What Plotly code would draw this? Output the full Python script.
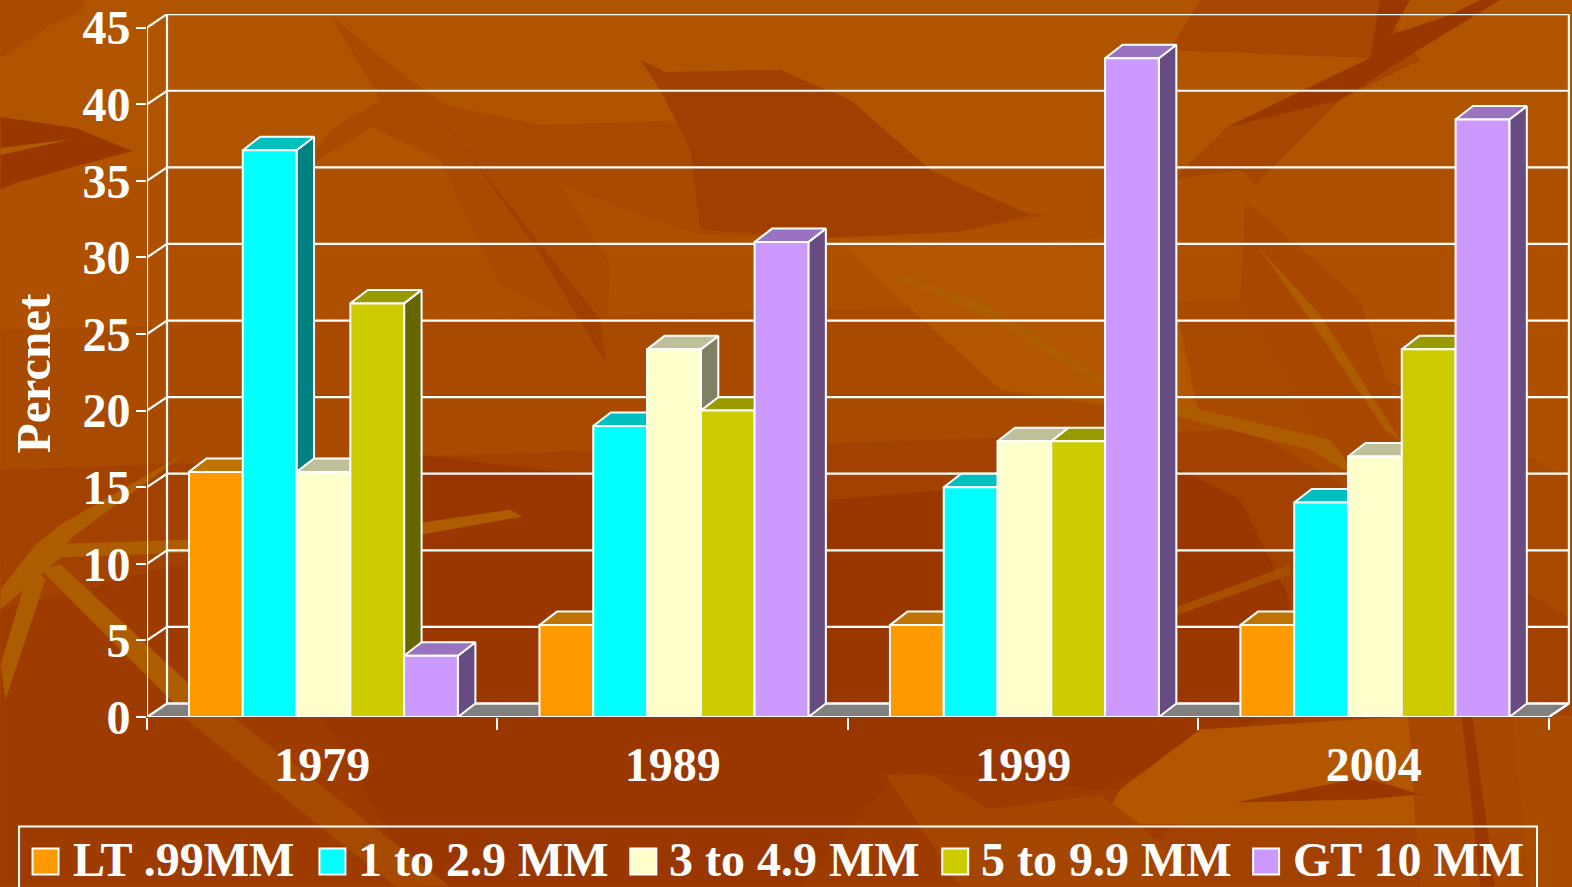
import plotly.graph_objects as go

# ---- data ----
YEARS = ["1979", "1989", "1999", "2004"]
SERIES = ["LT .99MM", "1 to 2.9 MM", "3 to 4.9 MM", "5 to 9.9 MM", "GT 10 MM"]
LT_099 = [16, 6, 6, 6]
MM_1_29 = [37, 19, 15, 14]
MM_3_49 = [16, 24, 18, 17]
MM_5_99 = [27, 20, 18, 24]
GT_10 = [4, 31, 43, 39]
VALUES = [LT_099, MM_1_29, MM_3_49, MM_5_99, GT_10]
Y_TICKS = list(range(0, 50, 5))

# ---- style ----
FRONT = ["#FF9900", "#00FFFF", "#FFFFCC", "#CCCC00", "#CC99FF"]
TOP = ["#BF7300", "#00BFBF", "#BFBF99", "#999900", "#9973BF"]
SIDE = ["#7F4C00", "#008080", "#808066", "#666600", "#664C80"]
FONT = "Liberation Serif"
W, H = 1572, 887
L, R, T, B = 146.5, 1570.0, 14.0, 717.5
PX_PER_X = 350.6
PX_PER_Y = 15.33
WALL_DX = 20.0 / PX_PER_X
BAR_DX = 17.5 / PX_PER_X
DY = 13.5 / PX_PER_Y
BAR_W = 53.8 / PX_PER_X
GROUP_PAD = 42.0 / PX_PER_X
XMAX = (R - L) / PX_PER_X
YMAX = (B - T) / PX_PER_Y


def px(x, y):
    return (x - L) / (R - L), (B - y) / (B - T)


def poly(points, color):
    d = []
    for i, (x, y) in enumerate(points):
        a, b = px(x, y)
        d.append(("M" if i == 0 else "L") + f"{a:.5f},{b:.5f}")
    return dict(type="path", xref="paper", yref="paper", path=" ".join(d) + " Z",
                fillcolor=color, line=dict(width=0), layer="below")


# painted backdrop (decorative bamboo leaves)
BG = "#B05400"
LIGHT = "#B25600"
MID = "#A64600"
DARK = "#9A3700"
RIB = "#AD5C00"
BACKDROP = [
    ([(0, 170), (1572, 170), (1572, 887), (0, 887)], "#AE5000"),
    ([(0, 330), (1240, 300), (1572, 480), (1572, 887), (0, 887)], "#A84A00"),
    ([(0, 470), (1250, 430), (1572, 620), (1572, 887), (0, 887)], "#A34200"),
    ([(0, 610), (200, 560), (1250, 560), (1300, 720), (1100, 887), (0, 887)], "#9E3B00"),
    ([(420, 455), (540, 470), (830, 500), (1180, 470), (1240, 500), (1290, 600), (1270, 715), (1100, 790), (900, 770), (800, 887), (420, 887), (320, 715)], DARK),
    ([(1200, 730), (1420, 716), (1440, 825), (1100, 825), (1120, 790)], LIGHT),
    ([(1420, 716), (1572, 716), (1572, 887), (1420, 887)], "#AA4C00"),
    ([(0, 0), (85, 0), (80, 12), (50, 25), (0, 58)], "#A84A00"),
    ([(0, 117), (75, 128), (132, 151), (15, 183), (0, 190)], DARK),
    ([(0, 148), (72, 139), (0, 155)], RIB),
    ([(330, 15), (390, 65), (445, 105), (540, 125), (700, 120), (780, 72), (850, 100), (930, 170), (1000, 210), (1050, 215), (960, 232), (830, 238), (700, 235), (640, 215), (560, 185), (610, 265), (606, 365), (560, 315), (500, 285), (460, 205), (440, 160), (372, 127), (300, 170), (330, 130), (380, 100)], "#A84A00"),
    ([(430, 105), (600, 320), (606, 365), (540, 255), (480, 170)], "#A04000"),
    ([(640, 60), (665, 72), (780, 70), (850, 100), (930, 170), (1030, 215), (960, 232), (830, 238), (700, 230), (690, 150), (660, 90)], "#A04000"),
    ([(835, 238), (1000, 245), (1160, 235), (1200, 420), (1000, 390), (900, 300)], LIGHT),
    ([(1170, 50), (1370, 58), (1230, 125), (1172, 180), (1240, 170), (1255, 185), (1300, 140), (1340, 100), (1420, 60), (1400, 35), (1380, 0), (1200, 0)], MID),
    ([(1380, 0), (1410, 0), (1390, 35), (1450, 15), (1480, 0), (1500, 0), (1410, 55), (1340, 100), (1228, 127), (1370, 58)], DARK),
    ([(1245, 200), (1360, 300), (1400, 420), (1500, 600), (1530, 887), (1420, 887), (1400, 600), (1290, 385), (1240, 300)], "#A84800"),
    ([(1235, 803), (1365, 778), (1420, 795), (1365, 800)], DARK),
    ([(885, 775), (930, 775), (990, 810), (1100, 795), (1140, 825), (1200, 887), (960, 887)], "#A44600"),
    ([(1460, 700), (1470, 700), (1495, 887), (1480, 887)], DARK),
    ([(880, 270), (980, 300), (1100, 375), (1180, 405), (1330, 440), (1360, 480), (1310, 450), (1170, 415), (1100, 385), (980, 315)], RIB),
    ([(1258, 247), (1320, 315), (1400, 440), (1385, 430), (1310, 320)], RIB),
    ([(1170, 610), (1290, 565), (1290, 575), (1170, 618)], "#A84E00"),
    ([(420, 523), (510, 510), (522, 517), (420, 535)], RIB),
    ([(0, 590), (35, 545), (190, 540), (190, 553), (60, 558), (0, 610)], RIB),
    ([(35, 545), (60, 525), (190, 450), (75, 535), (55, 555)], RIB),
    ([(0, 665), (30, 565), (45, 580), (5, 700)], RIB),
    ([(40, 570), (60, 565), (200, 695), (190, 720)], RIB),
    ([(190, 695), (210, 700), (450, 887), (395, 887), (180, 715)], "#A54A00"),
]

fig = go.Figure()


def line_trace(xs, ys):
    fig.add_trace(go.Scatter(x=xs, y=ys, mode="lines", showlegend=False, hoverinfo="skip",
                             line=dict(color="white", width=2.2), cliponaxis=False))


# floor
fig.add_trace(go.Scatter(x=[0, 4, 4 + WALL_DX, WALL_DX, 0], y=[0, 0, DY, DY, 0], mode="lines", fill="toself",
                         fillcolor="#808080", line=dict(color="white", width=2), showlegend=False,
                         hoverinfo="skip", cliponaxis=False))

# walls and gridlines, from the tick values
gx, gy = [], []
for v in Y_TICKS:
    gx += [0, WALL_DX, 4 + WALL_DX, None]
    gy += [v, v + DY, v + DY, None]
line_trace(gx, gy)
line_trace([0, 0, None, WALL_DX, WALL_DX, None, 4 + WALL_DX, 4 + WALL_DX, None, 4, 4 + WALL_DX],
           [0, 45, None, DY, 45 + DY, None, DY, 45 + DY, None, 0, DY])

# bars, painted left to right so that nearer faces overlap
for s, name in enumerate(SERIES):
    front_x, front_y, top_x, top_y, side_x, side_y = [], [], [], [], [], []
    for g, v in enumerate(VALUES[s]):
        x0 = g + GROUP_PAD + s * BAR_W
        x1 = x0 + BAR_W
        front_x += [x0, x1, x1, x0, x0, None]
        front_y += [0, 0, v, v, 0, None]
        top_x += [x0, x1, x1 + BAR_DX, x0 + BAR_DX, x0, None]
        top_y += [v, v, v + DY, v + DY, v, None]
        side_x += [x1, x1 + BAR_DX, x1 + BAR_DX, x1, x1, None]
        side_y += [0, DY, v + DY, v, 0, None]
    for xs, ys, col in ((side_x, side_y, SIDE[s]), (top_x, top_y, TOP[s]), (front_x, front_y, FRONT[s])):
        fig.add_trace(go.Scatter(x=xs, y=ys, mode="lines", fill="toself", fillcolor=col, name=name,
                                 line=dict(color="white", width=2), showlegend=False, cliponaxis=False))

# bottom axis line
line_trace([0, 4], [0, 0])

tickfont = dict(family=FONT, size=48, color="white", weight=700)
shapes = [poly(p, c) for p, c in BACKDROP]

# legend (box runs off the foot of the page, as in the source)
LEG_SWATCH_X = [32, 319, 630, 942, 1253]
LEG_TEXT_X = [72, 358, 669, 981, 1293]
a0, b0 = px(18.5, 827)
a1, b1 = px(1537, 900)
shapes.append(dict(type="rect", xref="paper", yref="paper", x0=a0, x1=a1, y0=b0, y1=b1,
                   line=dict(color="white", width=2), fillcolor="rgba(0,0,0,0)", layer="above"))
annotations = []
for s, name in enumerate(SERIES):
    a0, b0 = px(LEG_SWATCH_X[s], 849)
    a1, b1 = px(LEG_SWATCH_X[s] + 26, 875)
    shapes.append(dict(type="rect", xref="paper", yref="paper", x0=a0, x1=a1, y0=b0, y1=b1,
                       line=dict(color="white", width=2), fillcolor=FRONT[s], layer="above"))
    a, b = px(LEG_TEXT_X[s], 860)
    annotations.append(dict(xref="paper", yref="paper", x=a, y=b, text=name, showarrow=False,
                            xanchor="left", yanchor="middle", xshift=-2, font=tickfont))

# value-axis title, placed where the source has it
a, b = px(33, 374)
annotations.append(dict(xref="paper", yref="paper", x=a, y=b, text="Percnet", textangle=-90, showarrow=False,
                        xanchor="center", yanchor="middle",
                        font=dict(family=FONT, size=49, color="white", weight=700)))

fig.update_layout(
    width=W, height=H, autosize=False, paper_bgcolor=BG, plot_bgcolor="rgba(0,0,0,0)",
    margin=dict(l=L, r=W - R, t=T, b=H - B, autoexpand=False), showlegend=False, shapes=shapes,
    annotations=annotations,
    xaxis=dict(range=[0, XMAX], tickmode="array", tickvals=[g + 0.5 for g in range(len(YEARS))], ticktext=YEARS,
               ticks="", showgrid=False, zeroline=False, showline=False, tickfont=tickfont, ticklabelstandoff=15,
               minor=dict(tickmode="array", tickvals=list(range(len(YEARS) + 1)), ticks="outside", ticklen=12,
                          tickwidth=2, tickcolor="white", showgrid=False)),
    yaxis=dict(range=[0, YMAX], tickmode="array", tickvals=Y_TICKS, ticks="outside", ticklen=10, tickwidth=2,
               tickcolor="white", showgrid=False, zeroline=False, showline=False, tickfont=tickfont,
               ticklabelstandoff=-4),
)

fig.write_html("out.html", post_script="document.body.style.margin='0';", config=dict(displayModeBar=False))
